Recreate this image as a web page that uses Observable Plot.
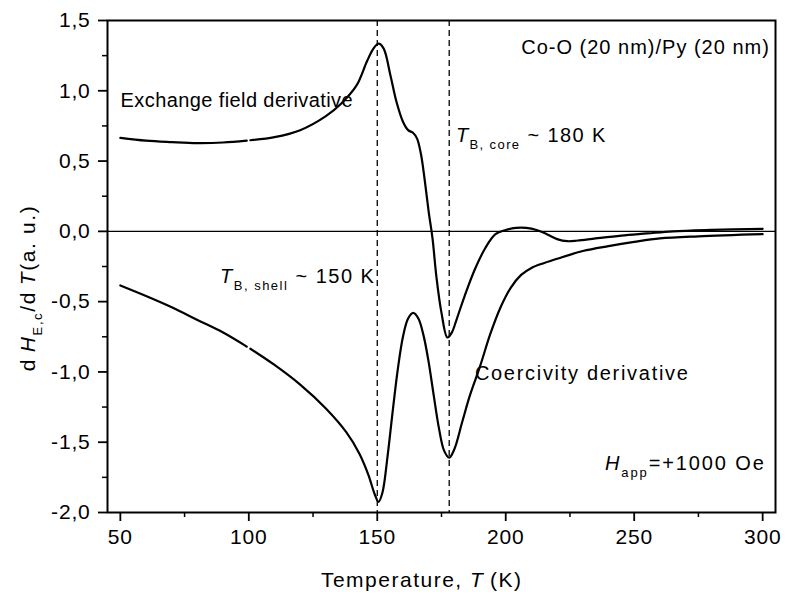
<!DOCTYPE html>
<html>
<head>
<meta charset="utf-8">
<script src="https://cdn.jsdelivr.net/npm/d3@7"></script>
<script src="https://cdn.jsdelivr.net/npm/@observablehq/plot@0.6"></script>
<style>
  html, body { margin: 0; padding: 0; background: #fff; }
  svg text { letter-spacing: 0.8px; }
</style>
</head>
<body>
<div id="chart"></div>
<script>
// ---- data ----
// Exchange field derivative: temperature (K) and value (a.u.); null = gap in the measured curve
const exchT = [50, 60, 70, 80, 90, 99.2, 100, 100.6, 110, 120, 130, 136, 142, 146, 148.5, 150.5, 152.5, 155, 157.5, 160, 162, 164, 165.5, 167, 168.5, 170, 171.5, 173, 175, 177.3, 179, 181, 184, 188, 192, 196, 200, 204, 208, 212, 216, 220, 224, 228, 235, 245, 255, 265, 280, 300];
const exchV = [0.665, 0.645, 0.635, 0.628, 0.632, 0.645, null, 0.648, 0.67, 0.72, 0.82, 0.91, 1.04, 1.21, 1.30, 1.335, 1.30, 1.12, 0.92, 0.78, 0.72, 0.70, 0.66, 0.55, 0.36, 0.14, -0.05, -0.32, -0.58, -0.755, -0.72, -0.62, -0.46, -0.27, -0.12, -0.02, 0.01, 0.025, 0.025, 0.01, -0.02, -0.055, -0.07, -0.065, -0.05, -0.03, -0.015, 0.0, 0.01, 0.018];
// Coercivity derivative
const coerT = [50, 60, 70, 80, 90, 99.2, 100, 100.6, 110, 120, 130, 138, 143, 146.5, 149, 150.5, 152, 154, 156, 158, 160, 162, 164, 166, 168, 170, 172, 174, 176, 178, 180, 183, 186, 190, 194, 198, 202, 206, 210, 215, 220, 230, 240, 250, 260, 275, 300];
const coerV = [-0.385, -0.46, -0.54, -0.63, -0.72, -0.82, null, -0.835, -0.95, -1.09, -1.26, -1.43, -1.58, -1.73, -1.87, -1.925, -1.86, -1.60, -1.28, -0.98, -0.75, -0.62, -0.58, -0.62, -0.74, -0.93, -1.17, -1.40, -1.56, -1.61, -1.55, -1.36, -1.17, -0.96, -0.73, -0.54, -0.40, -0.31, -0.26, -0.225, -0.195, -0.14, -0.105, -0.075, -0.05, -0.035, -0.02];
// blocking temperatures (dashed markers)
const markerT = [150, 178];
// ticks
const xMajor = [50, 100, 150, 200, 250, 300];
const xMinor = [75, 125, 175, 225, 275];
const yMajor = [-2.0, -1.5, -1.0, -0.5, 0.0, 0.5, 1.0, 1.5];
const yMinor = [-1.75, -1.25, -0.75, -0.25, 0.25, 0.75, 1.25];

const exch = exchT.map((t, i) => ({T: t, v: exchV[i] === null ? undefined : exchV[i]}));
const coer = coerT.map((t, i) => ({T: t, v: coerV[i] === null ? undefined : coerV[i]}));
const fmtY = d => d.toFixed(1).replace(".", ",");

const FONT = "'Liberation Sans', Arial, Helvetica, sans-serif";

const chart = Plot.plot({
  width: 785,
  height: 596,
  marginTop: 20,
  marginBottom: 84,
  marginLeft: 107,
  marginRight: 10,
  style: {fontFamily: FONT, fontSize: "21px", color: "#000", background: "#fff"},
  x: {domain: [45, 305], axis: null},
  y: {domain: [-2.0, 1.5], axis: null},
  marks: [
    Plot.ruleY([0], {stroke: "#000", strokeWidth: 1.3}),
    Plot.ruleX(markerT, {stroke: "#000", strokeWidth: 1.3, strokeDasharray: "6,4"}),
    Plot.line(exch, {x: "T", y: "v", stroke: "#000", strokeWidth: 2.2, curve: "catmull-rom"}),
    Plot.line(coer, {x: "T", y: "v", stroke: "#000", strokeWidth: 2.2, curve: "catmull-rom"}),
    Plot.frame({stroke: "#000", strokeWidth: 2}),
    Plot.axisX({ticks: xMajor, tickSize: 9, tickPadding: 8, tickFormat: d => String(d), strokeWidth: 1.8, fontSize: 21, label: null}),
    Plot.axisX({ticks: xMinor, tickSize: 5, tickFormat: () => "", strokeWidth: 1.5, label: null}),
    Plot.axisY({ticks: yMajor, tickSize: 9, tickPadding: 8, tickFormat: fmtY, strokeWidth: 1.8, fontSize: 21, label: null}),
    Plot.axisY({ticks: yMinor, tickSize: 5, tickFormat: () => "", strokeWidth: 1.5, label: null})
  ]
});

document.getElementById("chart").appendChild(chart);

// scales from Plot
const sxObj = chart.scale("x"), syObj = chart.scale("y");
const sx = sxObj.apply ? (v => sxObj.apply(v)) : d3.scaleLinear(sxObj.domain, sxObj.range);
const sy = syObj.apply ? (v => syObj.apply(v)) : d3.scaleLinear(syObj.domain, syObj.range);

const svg = d3.select(chart);
const g = svg.append("g").attr("font-family", FONT).attr("fill", "#000");

// rich text helper: parts = [{t, i (italic), s (subscript)}]
function rich(parent, x, y, parts, opts = {}) {
  const size = opts.size || 20;
  const t = parent.append("text")
    .attr("x", x).attr("y", y)
    .attr("font-size", size)
    .attr("text-anchor", opts.anchor || "start")
    .style("letter-spacing", (opts.ls != null ? opts.ls : 0.6) + "px");
  if (opts.transform) t.attr("transform", opts.transform).attr("x", 0).attr("y", 0);
  let shift = 0;
  for (const p of parts) {
    const target = p.s ? 7 : 0;
    const ts = t.append("tspan").text(p.t);
    if (target !== shift) { ts.attr("dy", target - shift); shift = target; }
    if (p.i) ts.attr("font-style", "italic");
    if (p.s) ts.attr("font-size", 13);
  }
  return t;
}

// annotations (anchored in data coordinates)
rich(g, sx(50.3), sy(0.88), [{t: "Exchange field derivative"}], {ls: 0.4});
rich(g, sx(303), sy(1.26), [{t: "Co-O (20 nm)/Py (20 nm)"}], {anchor: "end", ls: 1.0});
rich(g, sx(180.8), sy(0.633), [{t: "T", i: true}, {t: "B, core", s: true}, {t: " ~ 180 K"}], {ls: 1.4});
rich(g, sx(89), sy(-0.37), [{t: "T", i: true}, {t: "B, shell", s: true}, {t: " ~ 150 K"}], {ls: 1.5});
rich(g, sx(188.2), sy(-1.06), [{t: "Coercivity derivative"}], {ls: 1.7});
rich(g, sx(238.8), sy(-1.70), [{t: "H", i: true}, {t: "app", s: true}, {t: "=+1000 Oe"}], {ls: 1.9});

// axis titles
rich(g, sx(167.5), 587, [{t: "Temperature, "}, {t: "T", i: true}, {t: "\u2009(K)"}], {anchor: "middle", size: 21, ls: 1.5});
rich(g, 0, 0, [{t: "d\u2009"}, {t: "H", i: true}, {t: "E,c", s: true}, {t: "/d\u2009"}, {t: "T", i: true}, {t: "(a. u.)"}],
  {anchor: "middle", size: 21, ls: 1.6, transform: `translate(35,${(sy(1.5) + sy(-2.0)) / 2 + 22}) rotate(-90)`});
</script>
</body>
</html>
